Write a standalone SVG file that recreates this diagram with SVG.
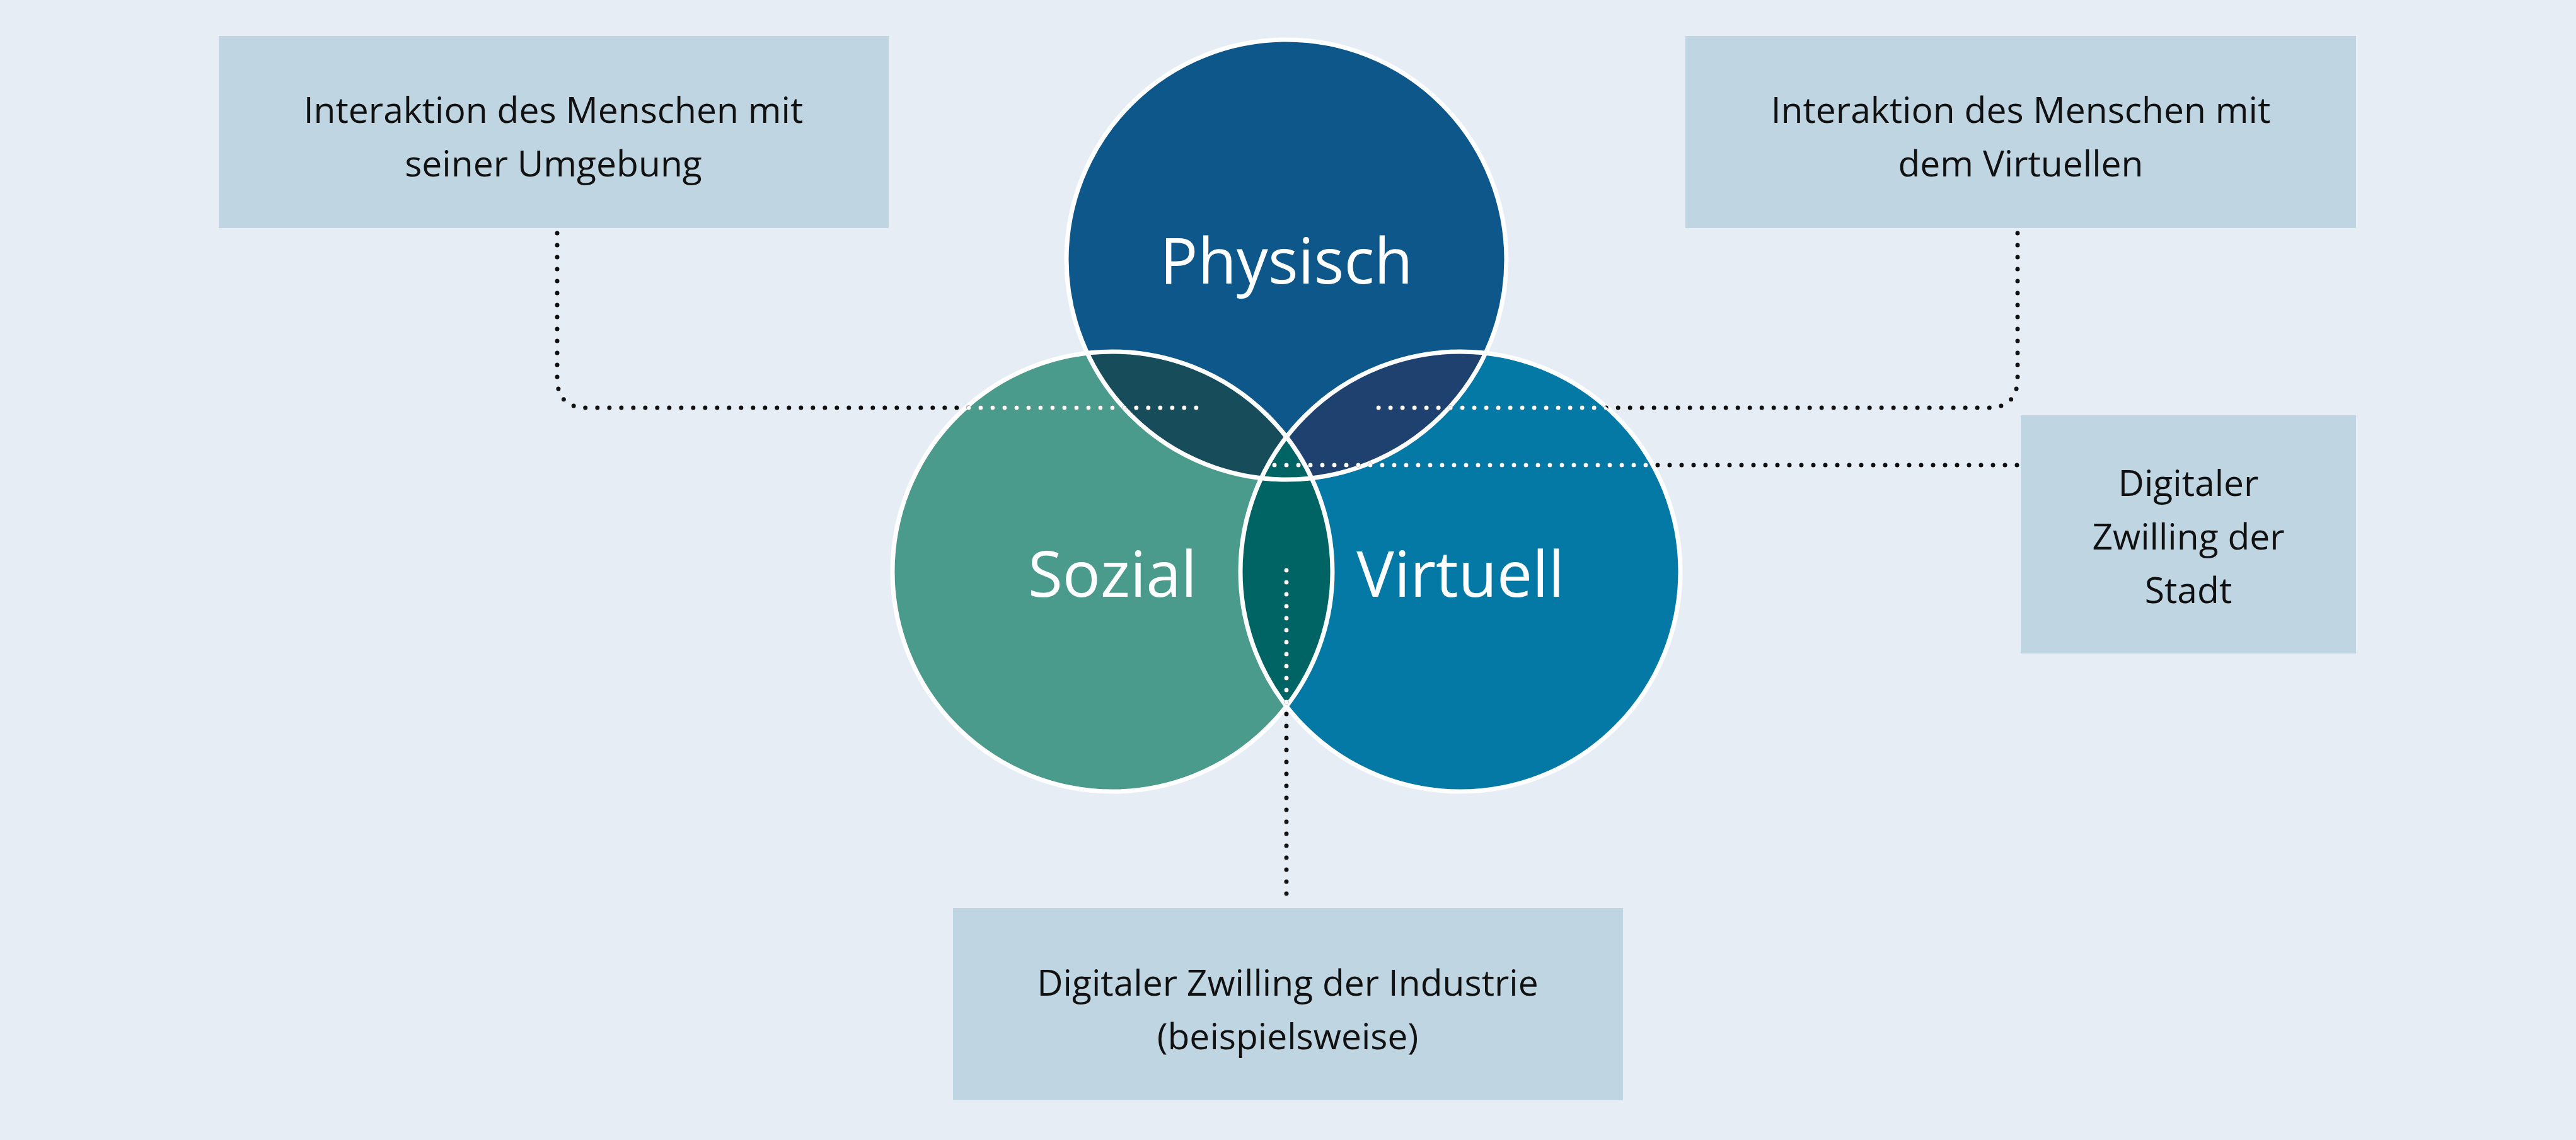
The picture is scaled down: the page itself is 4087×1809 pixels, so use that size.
<svg xmlns="http://www.w3.org/2000/svg" width="4087" height="1809" viewBox="0 0 4087 1809">
<style>
.box{fill:#bfd5e1}
.bt{font-family:"Open Sans","Liberation Sans",sans-serif;font-size:57px;fill:#111;text-anchor:middle}
.ct{font-family:"Open Sans","Liberation Sans",sans-serif;font-size:100px;fill:#fff;text-anchor:middle}
.ring{fill:none;stroke:#fff;stroke-width:7}
.dot{fill:none;stroke-width:7;stroke-linecap:round;stroke-dasharray:0 19}
</style>
<defs>
<circle id="cp" cx="2041" cy="412" r="349"/>
<circle id="cs" cx="1765" cy="907" r="349"/>
<circle id="cv" cx="2317" cy="907" r="349"/>
<clipPath id="clp"><use href="#cp"/></clipPath>
<clipPath id="clv"><use href="#cv"/></clipPath>
<clipPath id="clall"><use href="#cp"/><use href="#cs"/><use href="#cv"/></clipPath>
<path id="l1" d="M884 370 V600 Q884 647 931 647 H1903"/>
<path id="l2" d="M3201 370 V600 Q3201 647 3154 647 H2179"/>
<path id="l3" d="M3200 738 H2007"/>
<path id="l4" d="M2041 905 V1436"/>
</defs>
<rect width="4087" height="1809" fill="#e6edf5"/>
<g id="sozial"><use href="#cs" fill="#4a9b8b"/></g>
<g id="virtuell"><use href="#cv" fill="#0479a6"/></g>
<g id="physisch"><use href="#cp" fill="#0d578b"/></g>
<g id="overlaps">
<use href="#cs" fill="#174d5a" clip-path="url(#clp)"/>
<use href="#cv" fill="#1e4170" clip-path="url(#clp)"/>
<use href="#cs" fill="#006364" clip-path="url(#clv)"/>
</g>
<g id="rings"><use href="#cp" class="ring"/><use href="#cs" class="ring"/><use href="#cv" class="ring"/></g>
<text class="ct" x="2041" y="450">Physisch</text>
<text class="ct" x="1765" y="947">Sozial</text>
<text class="ct" x="2317" y="947">Virtuell</text>
<g id="connectors">
<g stroke="#111"><use href="#l1" class="dot"/><use href="#l2" class="dot"/><use href="#l3" class="dot"/><use href="#l4" class="dot"/></g>
<g clip-path="url(#clall)"><rect x="0" y="0" width="4087" height="1809" fill="none"/>
<g stroke="#fff"><use href="#l1" class="dot"/><use href="#l2" class="dot"/><use href="#l3" class="dot"/><use href="#l4" class="dot"/></g></g>
</g>
<g id="box1"><rect class="box" x="347" y="57" width="1063" height="305"/>
<text class="bt" x="878" y="195">Interaktion des Menschen mit</text><text class="bt" x="878" y="280">seiner Umgebung</text></g>
<g id="box2"><rect class="box" x="2674" y="57" width="1064" height="305"/>
<text class="bt" x="3206" y="195">Interaktion des Menschen mit</text><text class="bt" x="3206" y="280">dem Virtuellen</text></g>
<g id="box3"><rect class="box" x="3206" y="659" width="532" height="378"/>
<text class="bt" x="3472" y="787">Digitaler</text><text class="bt" x="3472" y="872">Zwilling der</text><text class="bt" x="3472" y="957">Stadt</text></g>
<g id="box4"><rect class="box" x="1512" y="1441" width="1063" height="305"/>
<text class="bt" x="2043" y="1580">Digitaler Zwilling der Industrie</text><text class="bt" x="2043" y="1665">(beispielsweise)</text></g>
</svg>
